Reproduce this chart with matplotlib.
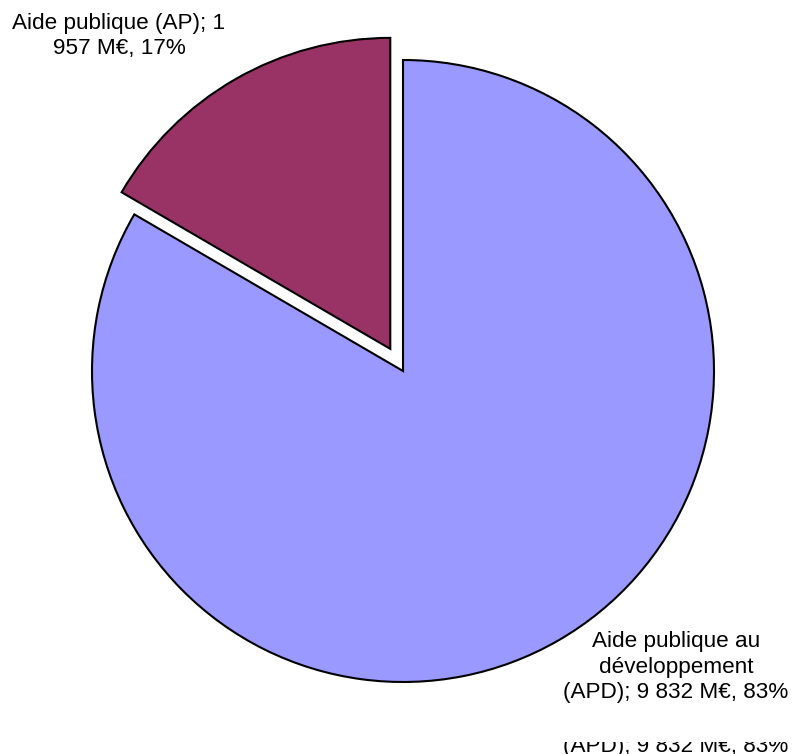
import matplotlib
matplotlib.use('Agg')
import matplotlib.pyplot as plt
from matplotlib.transforms import Bbox

plt.rcParams['font.family'] = ['Liberation Sans', 'DejaVu Sans']

labels = ['Aide publique (AP); 1\n957 M€, 17%',
          'Aide publique au\ndéveloppement\n(APD); 9 832 M€, 83%']
values = [1957, 9832]
colors = ['#993366', '#9999FF']
explode = [0.082, 0]

W, H = 801, 754
cx, cy, R = 403, 371, 311  # pie centre and radius in pixels
fs = 16.2

fig = plt.figure(figsize=(W / 100, H / 100), dpi=100)
ax = fig.add_axes([0, 0, 1, 1])
ax.pie(values, colors=colors, explode=explode, startangle=90, counterclock=True,
       radius=1, wedgeprops=dict(edgecolor='black', linewidth=1.5))
ax.set_xlim(-cx / R, (W - cx) / R)
ax.set_ylim(-(H - cy) / R, cy / R)
ax.set_aspect('equal')
ax.axis('off')

ax.text((119 - cx) / R, (cy - 36) / R, labels[0], ha='center', va='center',
        fontsize=fs, linespacing=1.3)
ax.text((676 - cx) / R, (cy - 667) / R, labels[1], ha='center', va='center',
        fontsize=fs, linespacing=1.3)

# clipped duplicate of the last label line at the bottom edge
ghost = fig.text(676 / W, 1 - 752 / H, labels[1].split('\n')[-1], ha='center',
                 va='baseline', fontsize=fs)
ghost.set_clip_box(Bbox([[0, 0], [W, H - 742]]))
ghost.set_clip_on(True)

fig.savefig('out.png', dpi=100)
